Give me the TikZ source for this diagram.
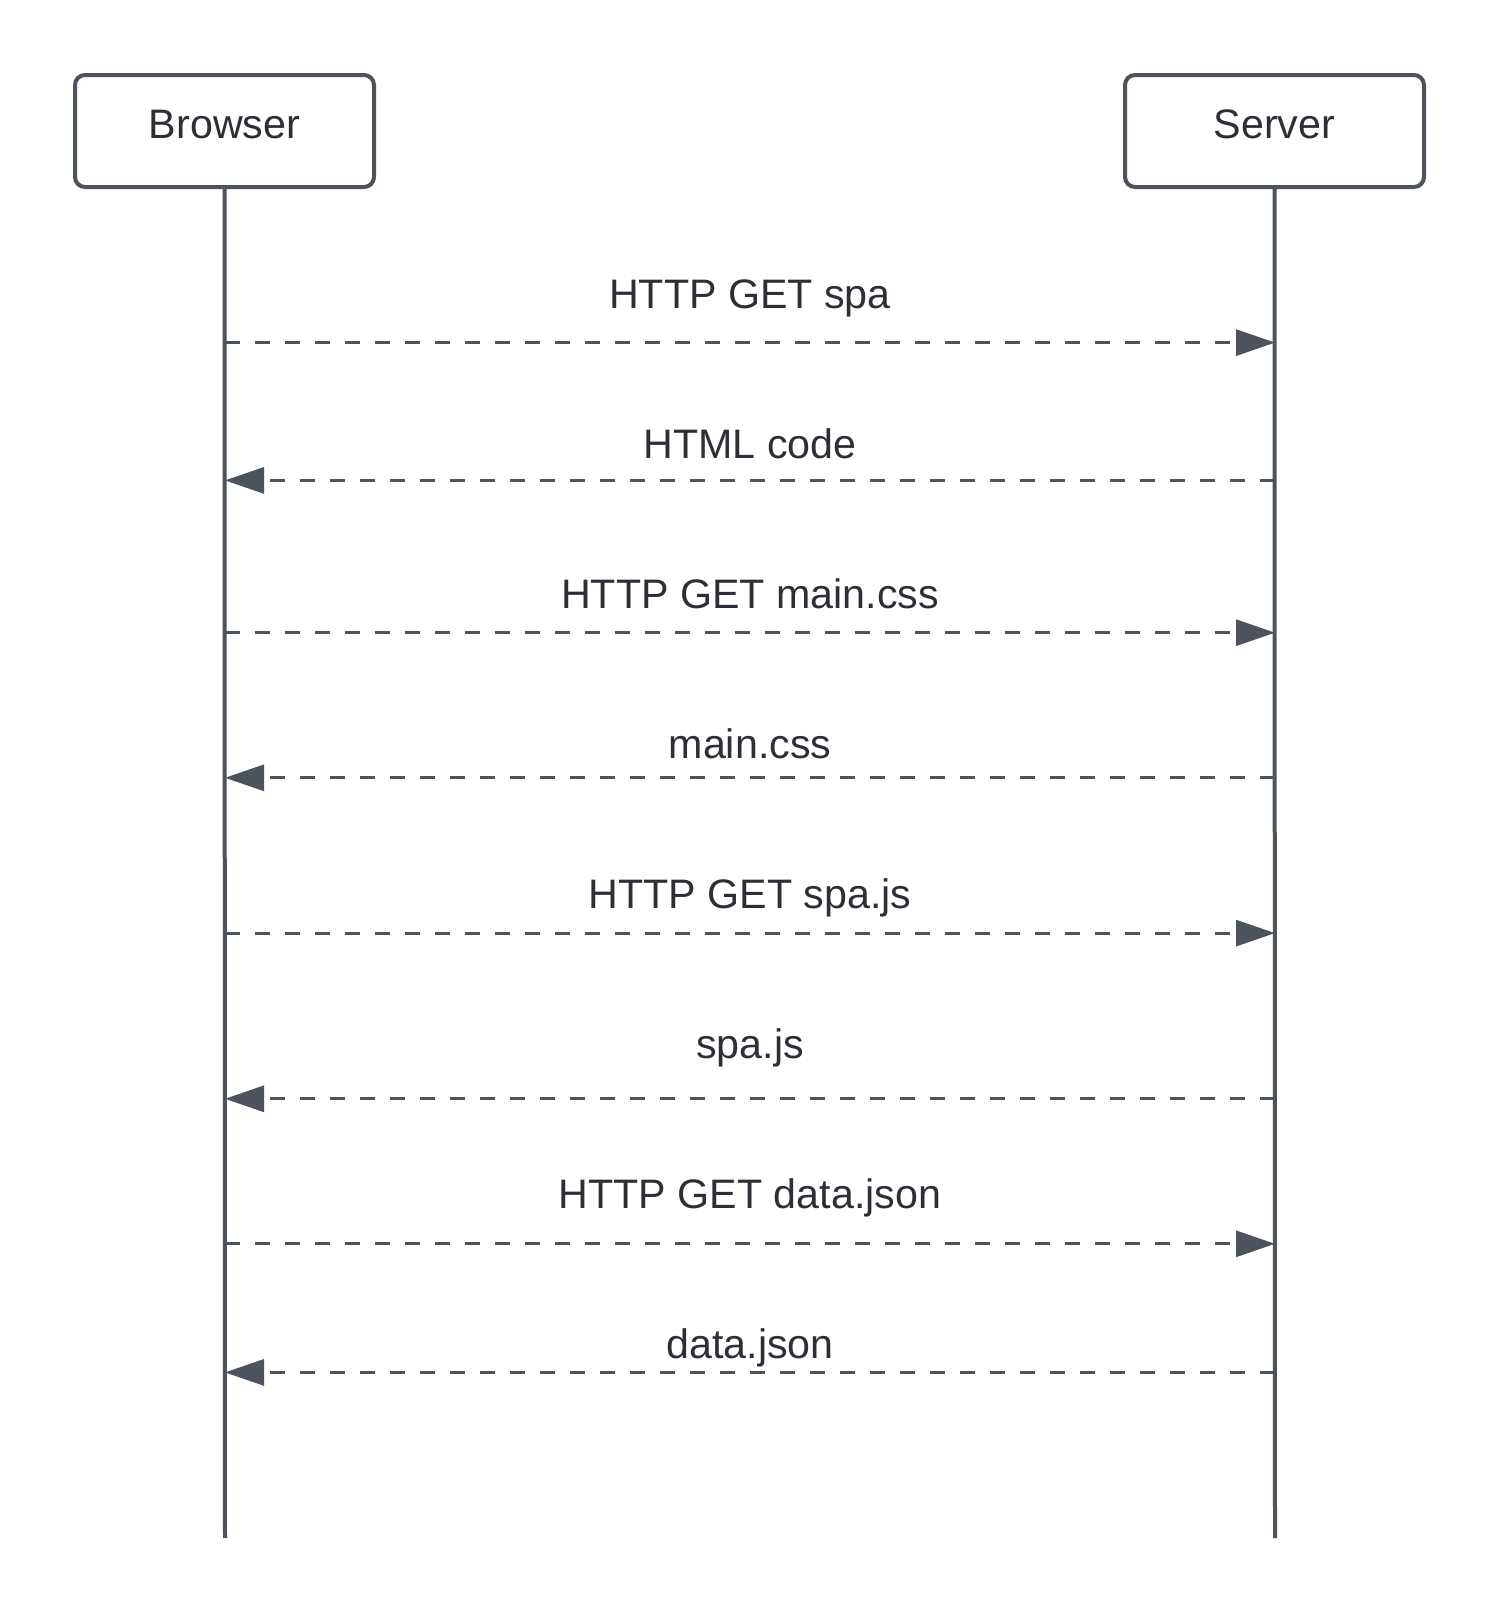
\documentclass[tikz,border=0pt]{standalone}
\usepackage{fontspec}
\setmainfont{Liberation Sans}
\usetikzlibrary{arrows.meta}
\definecolor{linegray}{HTML}{4D535D}
\definecolor{textgray}{HTML}{2C3036}
\tikzset{
    actor-box/.style = {draw=linegray, fill=white, line width=2pt, rectangle, rounded corners=5pt, minimum width=149.5pt, minimum height=56pt, text depth=6.5pt, font=\fontsize{20.6}{24}\selectfont, text=textgray},
    life-line/.style = {draw=linegray, line width=2pt},
    message/.style = {draw=linegray, line width=1.5pt, dash pattern=on 7.5pt off 7.5pt, -{Triangle[length=19.5pt, width=13pt]}},
    message-label/.style = {font=\fontsize{20.6}{24}\selectfont, text=textgray, anchor=base, inner sep=0pt},
}

\begin{document}
\begin{tikzpicture}[x=0.5pt, y=-0.5pt]
\useasboundingbox (0,0) rectangle (1500,1613);

% actors
\node[actor-box] (browser) at (224.5,131) {Browser};
\node[actor-box] (server) at (1274.5,131) {Server};
\coordinate (browser-end) at (225,1538);
\coordinate (server-end) at (1275,1538);
\draw[life-line] (browser.south) -- (browser-end);
\draw[life-line] (server.south) -- (server-end);

% requests, browser -> server
\foreach \i/\y/\ty/\txt in {1/342.6/308/HTTP GET spa, 3/632.7/608/HTTP GET main.css, 5/933.1/908/HTTP GET spa.js, 7/1243.8/1208/HTTP GET data.json}{
    \coordinate (b\i) at (225,\y);
    \coordinate (s\i) at (1275,\y);
    \node[message-label] (m\i) at (750,\ty) {\txt};
    \draw[message] (b\i) -- (s\i);
}

% responses, server -> browser
\foreach \i/\y/\ty/\txt in {2/480.4/458/HTML code, 4/777.8/758/main.css, 6/1098.8/1058/spa.js, 8/1372.4/1358/data.json}{
    \coordinate (b\i) at (225,\y);
    \coordinate (s\i) at (1275,\y);
    \node[message-label] (m\i) at (750,\ty) {\txt};
    \draw[message] (s\i) -- (b\i);
}
\end{tikzpicture}
\end{document}
